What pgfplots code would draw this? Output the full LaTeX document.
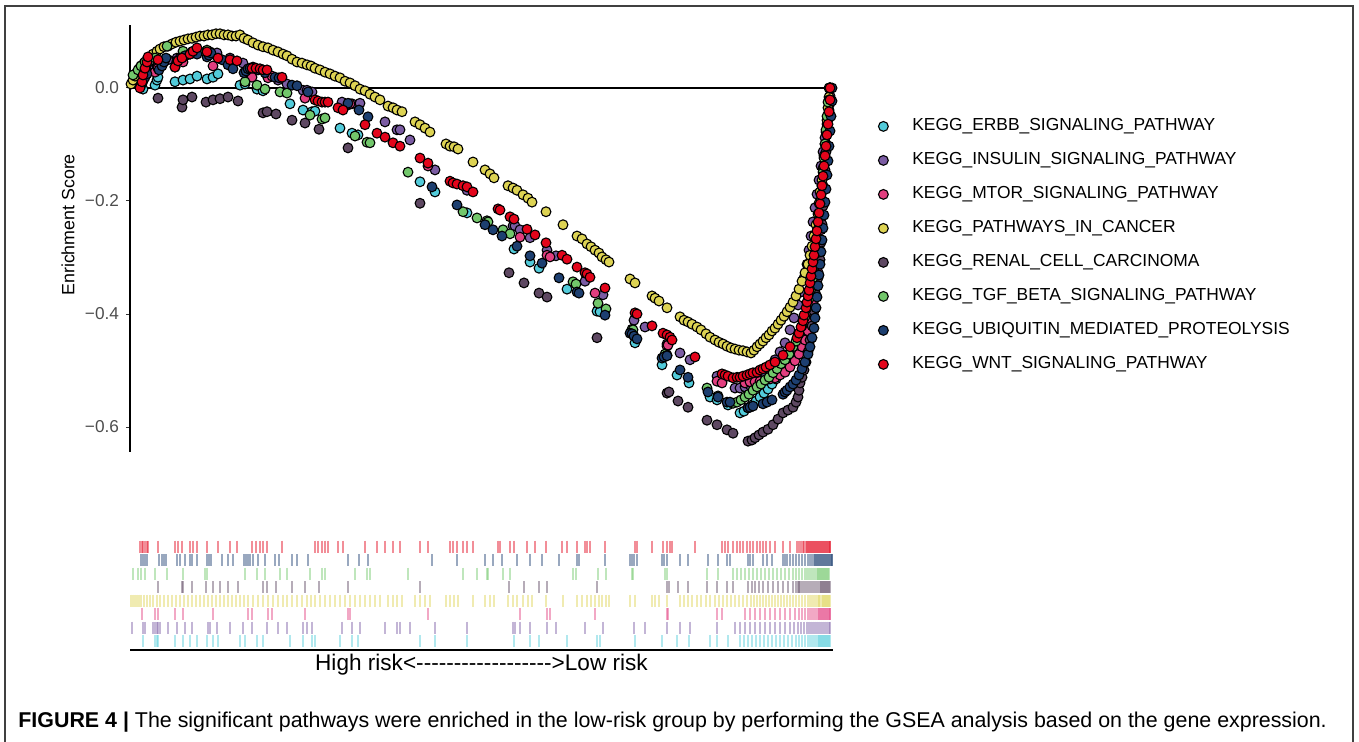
\documentclass[border=0pt]{standalone}
\usepackage{fontspec}
\setmainfont{Liberation Sans}
\usepackage{pgfplots}
\usepackage{pgfplotstable}
\pgfplotsset{compat=1.18}
\definecolor{cErbb}{HTML}{52CBDA}
\definecolor{cIns}{HTML}{7B5CA3}
\definecolor{cMtor}{HTML}{E23E7F}
\definecolor{cPath}{HTML}{DDD353}
\definecolor{cRenal}{HTML}{5E4862}
\definecolor{cTgf}{HTML}{72C76B}
\definecolor{cUbi}{HTML}{1D3F70}
\definecolor{cWnt}{HTML}{E3051B}
\definecolor{grey30}{HTML}{4D4D4D}
\pgfplotsset{
  dot/.style={only marks, mark=*, mark size=2.45pt, mark options={draw=black, fill=#1, line width=0.55pt}},
  rug/.style={only marks, mark=|, mark size=3.1pt, mark options={draw=#1, line width=0.75pt, draw opacity=0.45}},
  only mark legend/.style={legend image code/.code={\draw[##1, mark size=1.8pt, mark options={line width=0.5pt}] plot coordinates {(0pt,3pt)};}},
}
% x = gene rank position, y = running enrichment score
\pgfplotstableread{
x y
13 -0.002
25 0.005
27 0.014
28 0.019
45 0.011
53 0.014
60 0.016
67 0.021
77 0.016
83 0.019
88 0.025
110 0.005
115 0.007
127 -0.002
133 -0.005
160 -0.028
173 -0.039
182 -0.042
185 -0.041
210 -0.071
222 -0.080
228 -0.083
290 -0.166
305 -0.184
337 -0.221
384 -0.285
400 -0.308
409 -0.319
437 -0.356
467 -0.395
470 -0.396
505 -0.451
532 -0.490
547 -0.508
559 -0.522
580 -0.547
587 -0.552
598 -0.561
610 -0.575
614 -0.572
618 -0.566
622 -0.561
626 -0.554
630 -0.547
634 -0.540
638 -0.533
642 -0.524
646 -0.515
650 -0.506
654 -0.497
658 -0.487
662 -0.476
666 -0.464
669 -0.451
672 -0.437
675 -0.421
678 -0.404
680 -0.386
682 -0.366
684 -0.345
686 -0.322
688 -0.297
689 -0.273
690 -0.248
691 -0.223
692 -0.198
693 -0.173
694 -0.149
695 -0.124
696 -0.099
697 -0.074
698 -0.050
699 -0.025
700 0.000
}\erbb
\pgfplotstableread{
x y
2 0.009
13 0.023
15 0.028
23 0.032
25 0.035
27 0.039
28 0.042
30 0.046
38 0.050
47 0.053
55 0.058
62 0.062
78 0.060
80 0.064
87 0.062
100 0.053
113 0.044
122 0.032
137 0.023
148 0.014
157 0.007
173 -0.004
177 -0.004
182 -0.007
212 -0.025
222 -0.028
230 -0.027
255 -0.060
267 -0.074
270 -0.074
280 -0.092
305 -0.145
337 -0.181
383 -0.244
385 -0.244
390 -0.251
400 -0.265
417 -0.287
426 -0.297
455 -0.342
473 -0.366
504 -0.411
515 -0.423
537 -0.453
550 -0.469
560 -0.481
587 -0.510
605 -0.531
610 -0.531
615 -0.529
620 -0.526
625 -0.520
630 -0.513
635 -0.504
640 -0.494
645 -0.481
650 -0.467
655 -0.451
660 -0.428
664 -0.407
668 -0.384
671 -0.361
674 -0.336
677 -0.312
679 -0.287
681 -0.262
683 -0.237
685 -0.212
687 -0.188
689 -0.163
691 -0.138
693 -0.113
695 -0.088
697 -0.064
699 -0.039
700 -0.014
}\insulin
\pgfplotstableread{
x y
12 0.014
25 0.028
28 0.035
45 0.037
53 0.046
83 0.039
118 0.018
122 0.019
138 0.018
142 0.021
175 -0.018
218 -0.030
220 -0.028
298 -0.138
390 -0.264
417 -0.296
420 -0.299
465 -0.363
537 -0.457
538 -0.455
587 -0.519
592 -0.522
615 -0.522
620 -0.520
625 -0.520
630 -0.519
635 -0.517
640 -0.515
645 -0.513
650 -0.508
655 -0.503
660 -0.494
665 -0.483
669 -0.471
672 -0.458
675 -0.446
678 -0.430
680 -0.414
682 -0.396
684 -0.375
686 -0.352
688 -0.326
689 -0.301
690 -0.276
691 -0.251
692 -0.227
693 -0.202
694 -0.177
695 -0.152
696 -0.127
697 -0.103
698 -0.078
699 -0.053
700 -0.027
700 0.000
}\mtor
\pgfplotstableread{
x y
1 0.007
3 0.014
5 0.021
7 0.028
9 0.034
11 0.039
14 0.044
17 0.050
20 0.055
23 0.060
27 0.065
30 0.069
34 0.073
38 0.074
42 0.078
46 0.081
50 0.083
54 0.085
58 0.087
62 0.088
66 0.090
70 0.092
74 0.092
78 0.094
82 0.094
86 0.096
90 0.096
94 0.094
98 0.094
102 0.092
106 0.092
110 0.094
114 0.088
118 0.085
123 0.080
128 0.076
133 0.073
138 0.071
143 0.067
148 0.064
153 0.060
157 0.057
162 0.051
167 0.046
172 0.044
177 0.041
181 0.039
185 0.035
190 0.032
195 0.028
200 0.025
205 0.021
210 0.018
215 0.012
220 0.009
225 0.004
230 -0.002
235 -0.005
240 -0.011
245 -0.016
250 -0.021
258 -0.032
263 -0.035
267 -0.039
272 -0.042
285 -0.060
290 -0.065
295 -0.071
300 -0.078
316 -0.099
320 -0.103
324 -0.104
328 -0.108
343 -0.131
355 -0.145
360 -0.152
364 -0.159
378 -0.173
383 -0.177
387 -0.181
393 -0.189
398 -0.195
402 -0.202
416 -0.219
433 -0.242
447 -0.262
452 -0.267
457 -0.276
461 -0.281
465 -0.287
469 -0.292
472 -0.299
476 -0.304
479 -0.308
500 -0.338
505 -0.345
522 -0.368
525 -0.372
529 -0.377
537 -0.389
550 -0.405
554 -0.411
558 -0.414
562 -0.418
567 -0.423
571 -0.428
576 -0.435
580 -0.441
585 -0.446
589 -0.450
593 -0.453
597 -0.457
601 -0.460
605 -0.462
609 -0.464
613 -0.465
617 -0.467
621 -0.469
624 -0.464
627 -0.458
630 -0.453
633 -0.448
636 -0.442
639 -0.437
642 -0.430
645 -0.425
648 -0.418
651 -0.411
654 -0.404
657 -0.396
660 -0.388
663 -0.379
666 -0.368
669 -0.356
672 -0.342
675 -0.327
678 -0.312
680 -0.296
682 -0.280
684 -0.262
686 -0.242
688 -0.223
689 -0.204
690 -0.184
692 -0.163
693 -0.142
694 -0.120
695 -0.099
696 -0.078
697 -0.057
698 -0.035
699 -0.016
700 0.000
}\pathcancer
\pgfplotstableread{
x y
28 -0.018
52 -0.034
53 -0.021
62 -0.016
76 -0.025
83 -0.021
90 -0.019
98 -0.016
108 -0.023
133 -0.044
137 -0.042
146 -0.046
162 -0.057
175 -0.062
189 -0.073
218 -0.106
290 -0.204
379 -0.327
394 -0.345
409 -0.363
417 -0.370
467 -0.442
537 -0.540
539 -0.538
548 -0.554
558 -0.565
577 -0.588
587 -0.596
597 -0.605
603 -0.611
618 -0.625
622 -0.623
625 -0.619
629 -0.614
633 -0.609
638 -0.604
643 -0.596
648 -0.586
653 -0.575
658 -0.570
663 -0.565
666 -0.556
668 -0.547
669 -0.535
670 -0.522
672 -0.512
674 -0.499
676 -0.485
678 -0.467
680 -0.446
682 -0.421
684 -0.395
686 -0.366
688 -0.336
690 -0.304
691 -0.273
692 -0.241
693 -0.209
694 -0.177
695 -0.145
696 -0.113
697 -0.081
698 -0.050
699 -0.021
700 0.000
}\renal
\pgfplotstableread{
x y
3 0.023
8 0.032
11 0.039
15 0.046
25 0.053
37 0.074
53 0.065
75 0.064
77 0.067
115 0.011
127 0.005
135 -0.002
150 -0.007
157 -0.009
180 -0.048
192 -0.055
195 -0.053
225 -0.085
237 -0.096
240 -0.097
278 -0.149
333 -0.219
347 -0.230
357 -0.235
358 -0.237
373 -0.251
380 -0.258
443 -0.343
446 -0.347
468 -0.381
476 -0.391
502 -0.427
503 -0.428
535 -0.471
537 -0.473
577 -0.531
588 -0.545
603 -0.558
607 -0.556
611 -0.552
615 -0.547
619 -0.542
623 -0.535
627 -0.529
631 -0.524
635 -0.517
639 -0.512
643 -0.504
647 -0.497
651 -0.488
655 -0.481
659 -0.471
663 -0.458
666 -0.448
669 -0.435
672 -0.421
675 -0.405
677 -0.389
679 -0.373
681 -0.356
683 -0.336
685 -0.315
687 -0.292
688 -0.269
689 -0.246
690 -0.223
691 -0.198
692 -0.173
693 -0.149
694 -0.124
695 -0.099
696 -0.074
697 -0.050
698 -0.025
699 0.000
}\tgf
\pgfplotstableread{
x y
11 0.005
13 0.012
15 0.019
17 0.025
29 0.032
32 0.039
34 0.046
36 0.053
47 0.048
50 0.053
55 0.057
60 0.060
62 0.064
67 0.060
77 0.055
79 0.058
81 0.062
92 0.050
98 0.041
103 0.034
114 0.027
116 0.030
118 0.034
120 0.035
123 0.037
128 0.032
135 0.027
145 0.019
149 0.018
162 0.005
167 0.004
178 -0.007
218 -0.027
229 -0.039
238 -0.051
302 -0.175
327 -0.207
355 -0.242
363 -0.251
372 -0.262
387 -0.280
400 -0.297
412 -0.310
429 -0.336
447 -0.361
449 -0.363
475 -0.402
500 -0.434
502 -0.435
504 -0.439
507 -0.444
532 -0.478
534 -0.476
537 -0.474
550 -0.499
558 -0.512
578 -0.538
588 -0.547
597 -0.556
600 -0.556
618 -0.566
620 -0.565
623 -0.563
633 -0.559
637 -0.556
642 -0.552
653 -0.542
655 -0.538
657 -0.535
660 -0.529
663 -0.524
666 -0.517
669 -0.508
672 -0.497
675 -0.485
678 -0.471
680 -0.458
682 -0.442
684 -0.425
685 -0.407
686 -0.389
687 -0.370
688 -0.350
689 -0.331
690 -0.312
691 -0.290
692 -0.269
693 -0.248
694 -0.225
695 -0.202
696 -0.179
697 -0.154
698 -0.129
699 -0.103
700 -0.076
701 -0.050
702 -0.023
702 0.000
}\ubiq
\pgfplotstableread{
x y
10 0.000
12 0.011
13 0.023
15 0.035
17 0.046
18 0.055
28 0.050
45 0.037
48 0.048
52 0.053
60 0.060
63 0.065
67 0.071
77 0.064
88 0.053
100 0.050
107 0.048
122 0.035
126 0.035
130 0.034
133 0.032
137 0.032
152 0.019
185 -0.021
188 -0.023
192 -0.025
195 -0.025
198 -0.025
208 -0.035
213 -0.039
235 -0.065
247 -0.080
255 -0.087
263 -0.097
270 -0.103
290 -0.124
298 -0.133
320 -0.165
323 -0.168
327 -0.170
333 -0.173
337 -0.175
343 -0.184
368 -0.214
370 -0.216
380 -0.228
384 -0.232
397 -0.250
405 -0.260
416 -0.274
432 -0.296
437 -0.303
447 -0.317
455 -0.327
457 -0.329
460 -0.335
475 -0.354
505 -0.398
507 -0.400
522 -0.421
533 -0.434
537 -0.437
540 -0.441
542 -0.446
565 -0.476
592 -0.506
595 -0.508
598 -0.510
603 -0.513
607 -0.512
610 -0.512
613 -0.510
617 -0.508
620 -0.506
623 -0.504
627 -0.503
630 -0.499
633 -0.497
636 -0.494
640 -0.490
645 -0.485
653 -0.473
660 -0.458
667 -0.442
669 -0.434
671 -0.423
673 -0.412
674 -0.402
676 -0.389
677 -0.379
678 -0.368
679 -0.358
680 -0.345
681 -0.333
682 -0.320
683 -0.308
684 -0.296
685 -0.281
686 -0.267
687 -0.253
688 -0.237
689 -0.221
690 -0.205
691 -0.189
692 -0.173
693 -0.156
694 -0.138
695 -0.120
696 -0.103
697 -0.083
698 -0.064
699 -0.042
700 -0.021
700 0.000
}\wnt
\begin{document}
\begin{tikzpicture}
\useasboundingbox (0,0) rectangle (679.5pt,371pt);
\draw[line width=1pt, black!75] (2.5pt,-2pt) -- (2.5pt,368pt) -- (676.5pt,368pt) -- (676.5pt,-2pt);
\begin{axis}[
  at={(65pt,145pt)}, anchor=south west, scale only axis,
  width=351.5pt, height=213.5pt,
  xmin=0, xmax=703, ymin=-0.6442, ymax=0.1115, clip=false,
  axis x line=none, axis y line=left,
  axis line style={-, line width=1pt, black},
  xtick=\empty,
  ytick={-0.6,-0.4,-0.2,0}, yticklabels={−0.6,−0.4,−0.2,0.0},
  tick align=outside, major tick length=2pt,
  y tick style={line width=0.5pt, color=black!80},
  yticklabel style={font=\fontsize{8.6}{10}\selectfont, text=grey30},
  ylabel={Enrichment Score},
  ylabel style={at={(axis description cs:-0.0882,0.532)}, anchor=center, font=\fontsize{8.9}{10}\selectfont},
  legend cell align=left,
  legend style={at={(axis description cs:1.0647,0.7829)}, anchor=north west, draw=none, fill=none,
    inner sep=0pt, outer sep=0pt, row sep=8.3pt, column sep=12pt,
    font=\fontsize{8.7}{10}\selectfont,
    nodes={inner sep=0pt, text height=6.5pt, text depth=2.2pt}},
]
\addplot[forget plot, line width=1pt, black] coordinates {(0,0) (700,0)};
\addplot[dot=cErbb] table {\erbb}; \addlegendentry{KEGG\_ERBB\_SIGNALING\_PATHWAY}
\addplot[dot=cIns] table {\insulin}; \addlegendentry{KEGG\_INSULIN\_SIGNALING\_PATHWAY}
\addplot[dot=cMtor] table {\mtor}; \addlegendentry{KEGG\_MTOR\_SIGNALING\_PATHWAY}
\addplot[dot=cPath] table {\pathcancer}; \addlegendentry{KEGG\_PATHWAYS\_IN\_CANCER}
\addplot[dot=cRenal] table {\renal}; \addlegendentry{KEGG\_RENAL\_CELL\_CARCINOMA}
\addplot[dot=cTgf] table {\tgf}; \addlegendentry{KEGG\_TGF\_BETA\_SIGNALING\_PATHWAY}
\addplot[dot=cUbi] table {\ubiq}; \addlegendentry{KEGG\_UBIQUITIN\_MEDIATED\_PROTEOLYSIS}
\addplot[dot=cWnt] table {\wnt}; \addlegendentry{KEGG\_WNT\_SIGNALING\_PATHWAY}
\end{axis}
\begin{axis}[
  at={(65pt,46pt)}, anchor=south west, scale only axis,
  width=351.5pt, height=55pt,
  xmin=0, xmax=703, ymin=-0.15, ymax=8, clip=false,
  axis x line=bottom, axis y line=none,
  axis line style={-, line width=1pt, black},
  xtick=\empty, ytick=\empty,
  xlabel={High risk<-\kern0pt-\kern0pt-\kern0pt-\kern0pt-\kern0pt-\kern0pt-\kern0pt-\kern0pt-\kern0pt-\kern0pt-\kern0pt-\kern0pt-\kern0pt-\kern0pt-\kern0pt-\kern0pt-\kern0pt->Low risk},
  xlabel style={at={(axis description cs:0.5,-0.19)}, anchor=base, font=\fontsize{11.3}{13}\selectfont, inner sep=0pt},
]
\addplot[rug=cErbb] table[y expr=0.5] {\erbb};
\addplot[rug=cIns] table[y expr=1.5] {\insulin};
\addplot[rug=cMtor] table[y expr=2.5] {\mtor};
\addplot[rug=cPath] table[y expr=3.5] {\pathcancer};
\addplot[rug=cRenal] table[y expr=4.5] {\renal};
\addplot[rug=cTgf] table[y expr=5.5] {\tgf};
\addplot[rug=cUbi] table[y expr=6.5] {\ubiq};
\addplot[rug=cWnt] table[y expr=7.5] {\wnt};
\end{axis}
\node[anchor=base west, inner sep=0pt, font=\fontsize{10.7}{12}\selectfont] at (9pt,7pt)
  {\textbf{FIGURE 4 |} The significant pathways were enriched in the low-risk group by performing the GSEA analysis based on the gene expression.};
\end{tikzpicture}
\end{document}
